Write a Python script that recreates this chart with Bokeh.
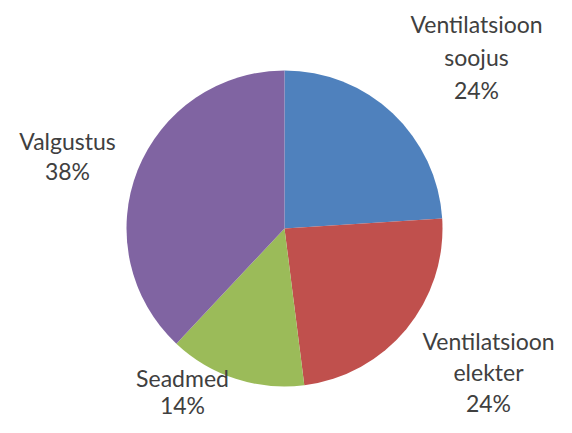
import numpy as np
from bokeh.plotting import figure
from bokeh.models import Range1d, ColumnDataSource
from bokeh.core.properties import value
from bokeh.embed import file_html
from bokeh.resources import INLINE

categories = ["Ventilatsioon soojus", "Ventilatsioon elekter", "Seadmed", "Valgustus"]
label_lines = [["Ventilatsioon", "soojus"], ["Ventilatsioon", "elekter"], ["Seadmed"], ["Valgustus"]]
shares = [24, 24, 14, 38]
colors = ["#4F81BD", "#C0504D", "#9BBB59", "#8064A2"]

W, H = 556, 417
p = figure(width=W, height=H, output_backend="svg", toolbar_location=None,
           x_range=Range1d(0, W), y_range=Range1d(0, H), min_border=0)
p.axis.visible = False
p.grid.visible = False
p.outline_line_color = None

cx, cy, r = 284, 189, 158
frac = np.array(shares, dtype=float) / sum(shares)
cum = np.concatenate([[0], np.cumsum(frac)])
start = np.pi / 2 - 2 * np.pi * cum[:-1]
end = np.pi / 2 - 2 * np.pi * cum[1:]
src = ColumnDataSource(dict(start=start, end=end, color=colors))
p.wedge(x=cx, y=cy, radius=r, start_angle="start", end_angle="end",
        direction="clock", fill_color="color", line_color=None, source=src)

# label anchor (center x, top line y) and line spacing per label
anchors = [(476, 394, 33), (488, 77, 31), (182, 40, 27), (67, 277, 30)]
xs, ys, ts = [], [], []
for (ax, ay, step), lines, s in zip(anchors, label_lines, shares):
    for i, t in enumerate(lines + [f"{s}%"]):
        xs.append(ax)
        ys.append(ay - i * step)
        ts.append(t)
p.text(x=xs, y=ys, text=ts, text_align="center", text_baseline="middle",
       text_font=value("Lato"), text_font_size="23px", text_color="#404040")

open("out.html", "w").write(file_html(p, INLINE))
